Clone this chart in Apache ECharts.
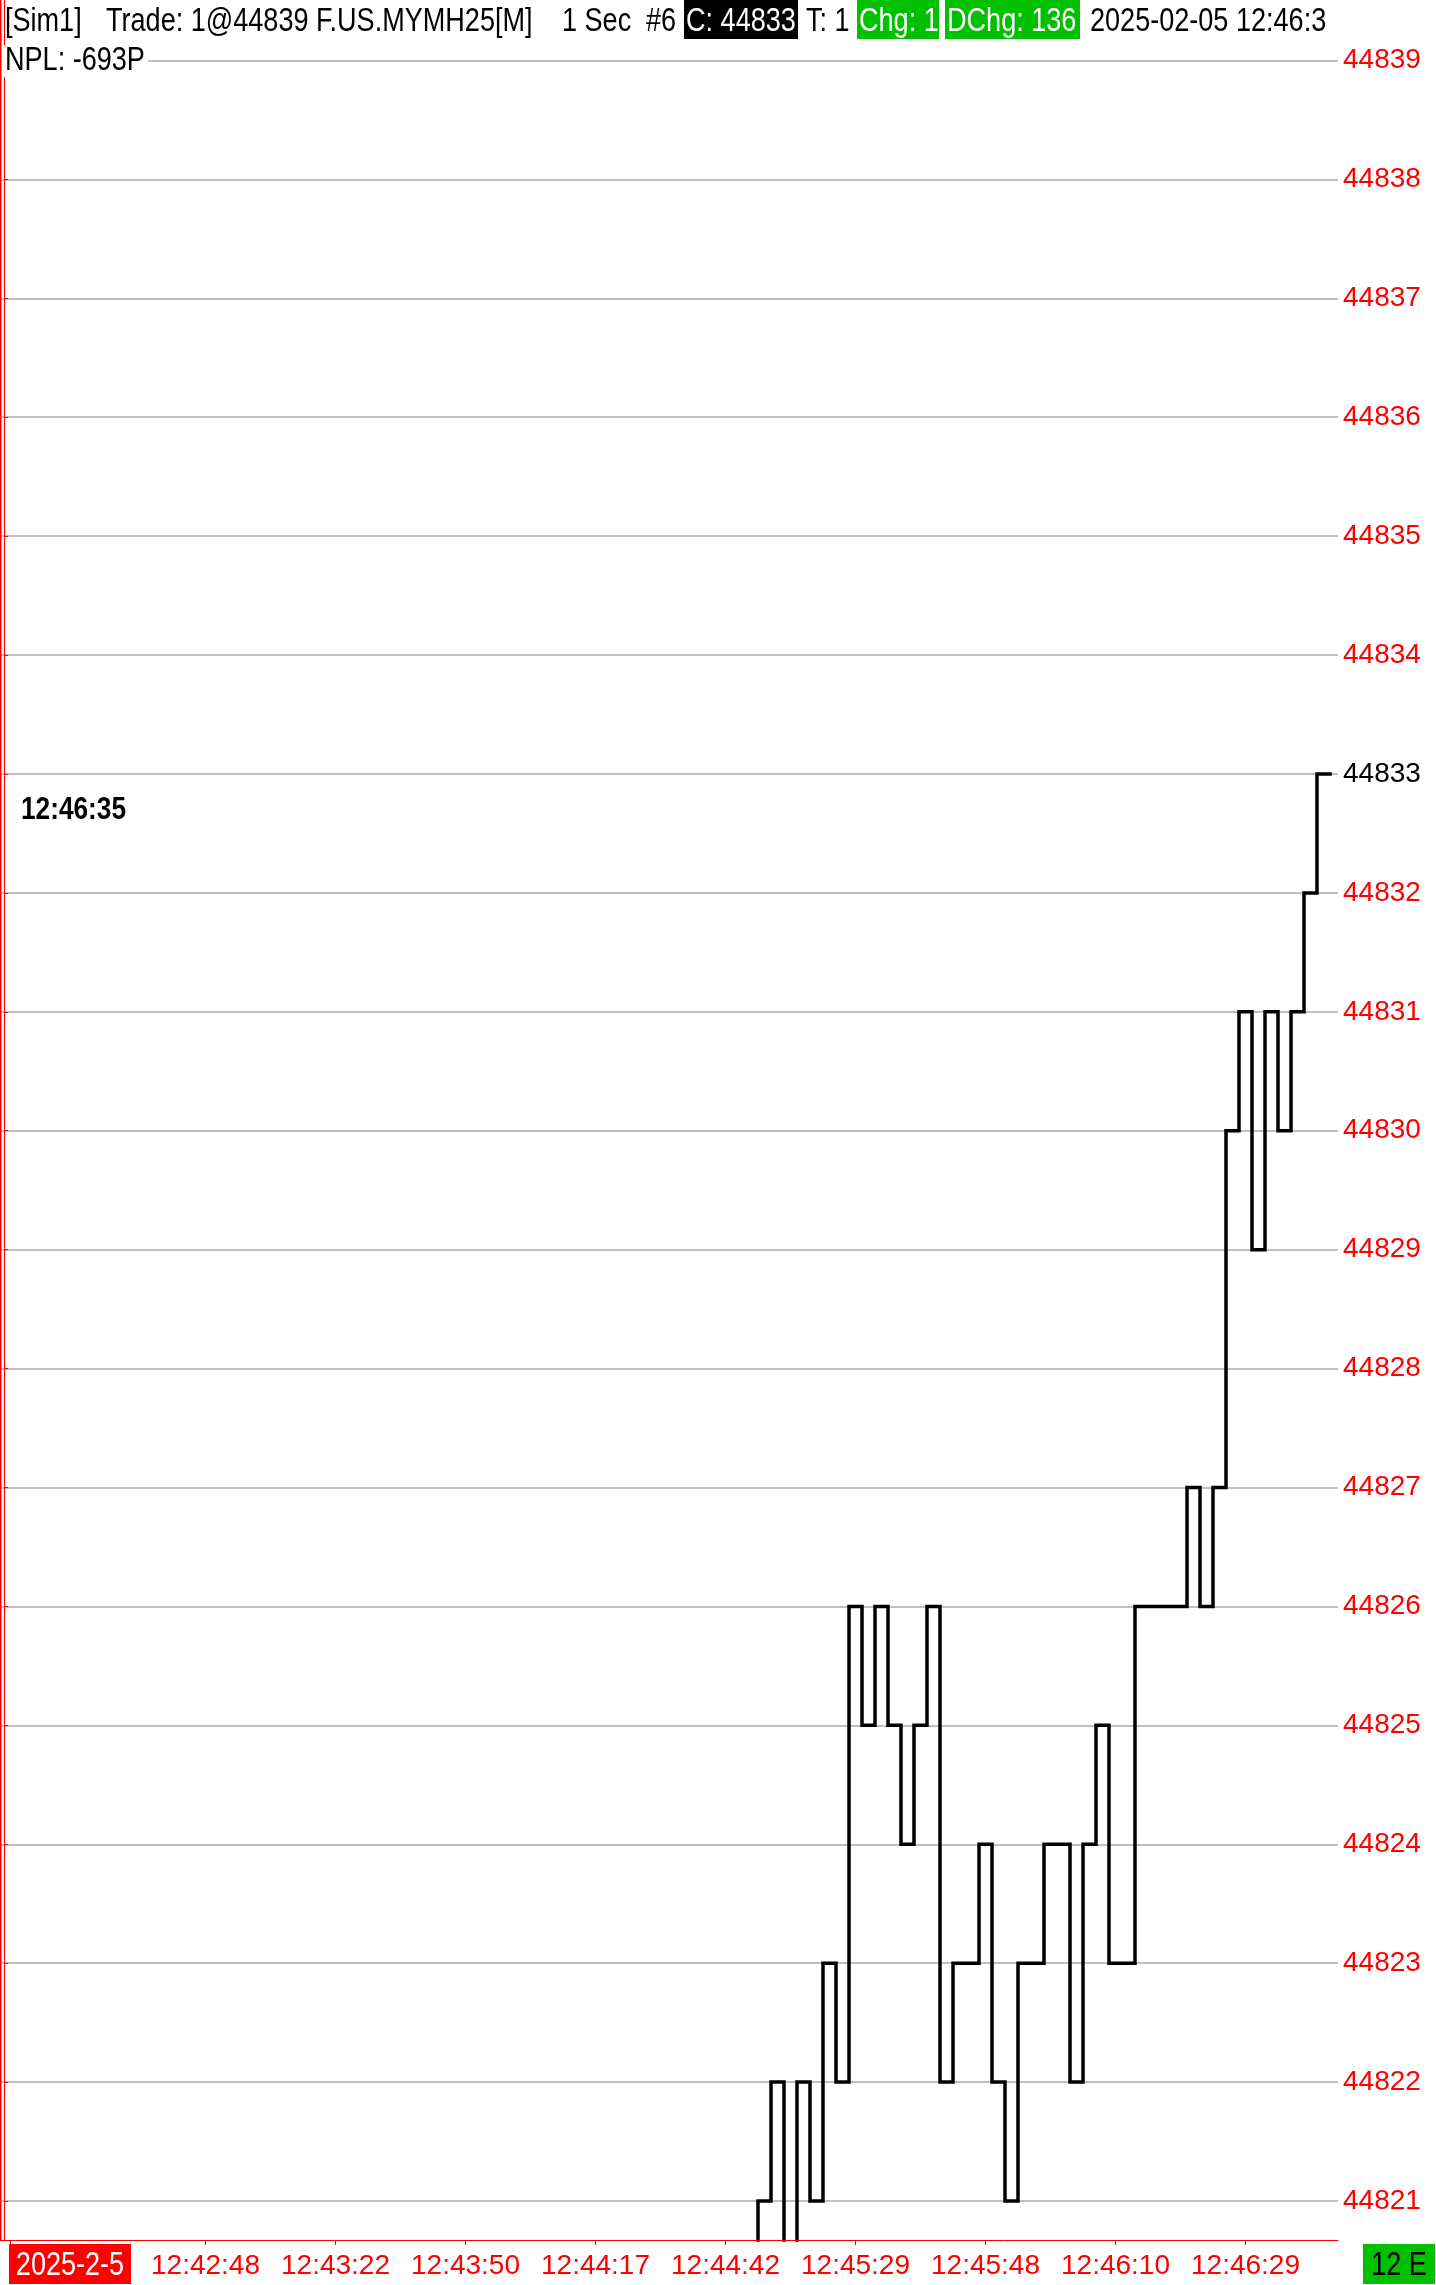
<!DOCTYPE html>
<html><head><meta charset="utf-8">
<script src="https://cdn.jsdelivr.net/npm/echarts@6/dist/echarts.min.js"></script>
<style>html,body{margin:0;padding:0;background:#fff}#c{width:1436px;height:2285px}</style>
</head><body><div id="c"></div>
<script>
const FONT = "'Liberation Sans', Arial, sans-serif";
const NARROW = 0.82; // horizontal squeeze to imitate the condensed UI font

// 1-second bars; first bar index with data in/near view
const firstBar = 57;
const closes = [44820, 44821, 44822, 44820, 44822, 44821, 44823, 44822, 44826, 44825,
                44826, 44825, 44824, 44825, 44826, 44822, 44823, 44823, 44824, 44822,
                44821, 44823, 44823, 44824, 44824, 44822, 44824, 44825, 44823, 44823,
                44826, 44826, 44826, 44826, 44827, 44826, 44827, 44830, 44831, 44829,
                44831, 44830, 44831, 44832, 44833];
const priceTicks = [44821, 44822, 44823, 44824, 44825, 44826, 44827, 44828, 44829, 44830,
                    44831, 44832, 44833, 44834, 44835, 44836, 44837, 44838, 44839];
const tickBars = [0, 15, 25, 35, 45, 55, 65, 75, 85, 95];
const tickLabels = ['2025-2-5', '12:42:48', '12:43:22', '12:43:50', '12:44:17',
                    '12:44:42', '12:45:29', '12:45:48', '12:46:10', '12:46:29'];
const lastPrice = 44833;

const lineData = closes.map((v, i) => [firstBar + i, v]);
lineData.push([firstBar + closes.length, closes[closes.length - 1]]);

const chart = echarts.init(document.getElementById('c'), null, {renderer: 'canvas'});

function txt(text, x, y, opts, font) {
  return {
    type: 'text', z: 100, x: x, y: y, scaleX: NARROW, scaleY: 1,
    style: Object.assign({
      text: text, x: 0, y: 0, fill: '#000',
      font: font || ('33px ' + FONT), textAlign: 'left', textVerticalAlign: 'middle'
    }, opts || {})
  };
}
function box(x, y, w, h, fill) {
  return {type: 'rect', z: 99, shape: {x: x, y: y, width: w, height: h}, style: {fill: fill}};
}

const option = {
  animation: false,
  backgroundColor: '#fff',
  grid: {left: 0, right: 98, top: 0, bottom: 45},
  xAxis: {
    type: 'value', min: -4 / 13, max: 1334 / 13, z: 3,
    axisLine: {show: true, onZero: false, lineStyle: {color: '#ff0000', width: 1}},
    axisTick: {show: true, length: 5, lineStyle: {color: '#ff0000', width: 1},
               customValues: tickBars.map(b => b + 0.5)},
    axisLabel: {
      customValues: tickBars.slice(1).map(b => b + 0.5),
      formatter: v => tickLabels[tickBars.indexOf(Math.round(v - 0.5))],
      color: '#ff0000', fontFamily: FONT, fontSize: 28, margin: 12
    },
    splitLine: {show: false}
  },
  yAxis: {
    type: 'value', position: 'right', min: 44821 - 39 / 118.917, max: 44839 + 60.5 / 118.917,
    axisLine: {show: true, lineStyle: {color: '#ff0000', width: 1}},
    axisTick: {show: true, length: 4, lineStyle: {color: '#ff0000', width: 1}, customValues: priceTicks},
    axisLabel: {
      customValues: priceTicks,
      formatter: v => String(Math.round(v)),
      color: v => (Math.round(Number(String(v).replace(/,/g, ''))) === lastPrice ? '#000000' : '#ff0000'),
      fontFamily: FONT, fontSize: 28, margin: 5, padding: [4, 0, 0, 0]
    },
    splitLine: {show: true, lineStyle: {color: '#c0c0c0', width: 2}}
  },
  series: [{
    type: 'line', step: 'end', data: lineData, showSymbol: false, symbol: 'none',
    clip: true, z: 2,
    lineStyle: {color: '#000', width: 3.5, join: 'miter', cap: 'square'}
  }],
  graphic: [
    box(0, 0, 1.5, 2240, '#ff0000'),
    txt('[Sim1]', 5, 22),
    txt('Trade: 1@44839 F.US.MYMH25[M]', 106, 22),
    txt('1 Sec', 562, 22),
    txt('#6', 646, 22),
    box(684, 0, 114, 39, '#000000'),
    txt('C: 44833', 686, 22, {fill: '#ffffff'}),
    txt('T: 1', 806, 22),
    box(857, 0, 82, 39, '#00c000'),
    txt('Chg: 1', 859, 22, {fill: '#ffffff'}),
    box(945, 0, 135, 39, '#00c000'),
    txt('DChg: 136', 947, 22, {fill: '#ffffff'}),
    txt('2025-02-05 12:46:3', 1090, 22),
    box(2, 45, 146, 32, '#ffffff'),
    txt('NPL: -693P', 5, 61),
    txt('12:46:35', 21, 810, null, 'bold 32px ' + FONT),
    box(9, 2244, 122, 40, '#ff0000'),
    txt(tickLabels[0], 70, 2266, {fill: '#ffffff', textAlign: 'center'}),
    box(1363, 2244, 72, 40, '#00c000'),
    txt('12 E', 1399, 2266, {textAlign: 'center'})
  ]
};
chart.setOption(option);
</script>
</body></html>
